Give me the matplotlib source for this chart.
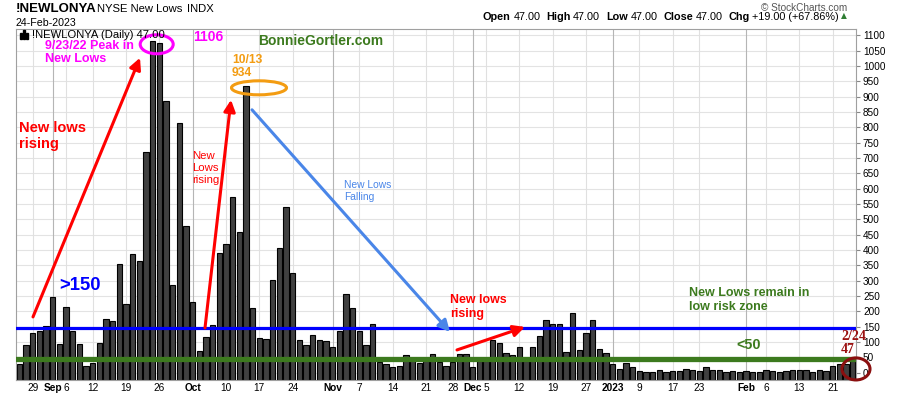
import matplotlib
matplotlib.use('Agg')
import matplotlib.pyplot as plt
import matplotlib.patches as mpatches
import pandas as pd

plt.rcParams['font.family'] = ['Liberation Sans', 'DejaVu Sans']

# trading days shown on the chart
holidays = ['2022-09-05', '2022-11-24', '2022-12-26', '2023-01-02', '2023-01-16', '2023-02-20']
days = [d for d in pd.bdate_range('2022-08-25', '2023-02-24') if d.strftime('%Y-%m-%d') not in holidays]

# daily NYSE new lows
new_lows_aug = [28, 90, 130, 137, 152]
new_lows_sep = [247, 93, 214, 136, 94, 22, 31, 97, 175, 168, 354, 224, 387, 364, 720,
                1083, 1076, 887, 286, 815, 478]
new_lows_oct = [230, 71, 116, 155, 390, 420, 573, 459, 934, 211, 112, 110, 302, 406, 541,
                325, 107, 90, 122, 107, 103]
new_lows_nov = [84, 136, 257, 211, 136, 90, 159, 35, 28, 18, 22, 58, 48, 33, 38, 60, 35,
                22, 36, 60, 60]
new_lows_dec = [18, 38, 38, 107, 97, 63, 58, 84, 38, 84, 119, 171, 159, 159, 67, 194, 73,
                128, 171, 76, 63]
new_lows_jan = [28, 11, 31, 18, 4, 3, 3, 7, 3, 5, 5, 11, 9, 5, 18, 8, 8, 3, 5, 3]
new_lows_feb = [5, 3, 3, 8, 6, 3, 5, 9, 8, 8, 3, 9, 5, 21, 27, 28, 47]
new_lows = new_lows_aug + new_lows_sep + new_lows_oct + new_lows_nov + new_lows_dec + new_lows_jan + new_lows_feb

# x axis labels
tick_dates = ['2022-08-29', '2022-09-01', '2022-09-06', '2022-09-12', '2022-09-19', '2022-09-26',
              '2022-10-03', '2022-10-10', '2022-10-17', '2022-10-24', '2022-11-01', '2022-11-07',
              '2022-11-14', '2022-11-21', '2022-11-28', '2022-12-01', '2022-12-05', '2022-12-12',
              '2022-12-19', '2022-12-27', '2023-01-03', '2023-01-09', '2023-01-17', '2023-01-23',
              '2023-02-01', '2023-02-06', '2023-02-13', '2023-02-21']
tick_text = ['29', 'Sep', '6', '12', '19', '26', 'Oct', '10', '17', '24', 'Nov', '7', '14', '21',
             '28', 'Dec', '5', '12', '19', '27', '2023', '9', '17', '23', 'Feb', '6', '13', '21']
month_ticks = ['Sep', 'Oct', 'Nov', 'Dec', '2023', 'Feb']

quote_labels = ['Open', 'High', 'Low', 'Close', 'Chg']
quote_values = ['47.00', '47.00', '47.00', '47.00', '+19.00 (+67.86%)']

high_level = 145
low_level = 45
y_bottom = -24

W, H = 900, 396
fig = plt.figure(figsize=(W / 100, H / 100), dpi=100)
ax = fig.add_axes([16 / W, 16 / H, 840 / W, 351 / H])


def fx(x):
    return x / W


def fy(y):
    return 1 - y / H


x = list(range(len(days)))
day_str = [d.strftime('%Y-%m-%d') for d in days]
tick_pos = [day_str.index(t) for t in tick_dates]

# grid
for v in range(0, 1101, 50):
    ax.axhline(v, color='#e3e3e3', lw=0.8, zorder=0)
for p, t in zip(tick_pos, tick_text):
    ax.axvline(p, color='#b5b5b5' if t in month_ticks else '#e0e0e0', lw=0.8, zorder=0)

ax.bar(x, [v - y_bottom for v in new_lows], bottom=y_bottom, width=0.82,
       color='#404040', edgecolor='black', linewidth=0.8, zorder=2)

ax.axhline(high_level, color='#0000ff', lw=2.3, zorder=3)
ax.axhline(low_level, color='#3c7a1e', lw=3.8, zorder=3)

ax.set_xlim(-0.5, len(days) - 0.5)
ax.set_ylim(y_bottom, 1121)
ax.yaxis.tick_right()
ax.set_yticks(range(0, 1101, 50))
ax.tick_params(axis='y', labelsize=7.2, length=3, color='#888888', pad=2)
ax.set_xticks(tick_pos)
ax.set_xticklabels(tick_text, fontsize=7.3)
for lab in ax.get_xticklabels():
    if lab.get_text() in month_ticks:
        lab.set_fontweight('bold')
ax.tick_params(axis='x', length=0, pad=2)
for s in ax.spines.values():
    s.set_color('#a0a0a0')
    s.set_linewidth(0.8)

# header
fig.text(fx(16), fy(9.5), '!NEWLONYA', fontsize=9.5, fontweight='bold', va='center')
fig.text(fx(97), fy(9.5), 'NYSE New Lows', fontsize=8.1, va='center')
fig.text(fx(187), fy(9.5), 'INDX', fontsize=8.1, va='center')
fig.text(fx(16), fy(22.7), '24-Feb-2023', fontsize=7.7, va='center')
fig.text(fx(847), fy(8), '\u00a9 StockCharts.com', fontsize=7.2, color='#555555',
         va='center', ha='right')

# quote line, laid out piece by piece
fig.canvas.draw()
renderer = fig.canvas.get_renderer()
cur = 483
for lab, val in zip(quote_labels, quote_values):
    t = fig.text(fx(cur), fy(16.5), lab, fontsize=7.8, fontweight='bold', va='center')
    cur += t.get_window_extent(renderer).width + 2.5
    t = fig.text(fx(cur), fy(16.5), val, fontsize=7.8, va='center')
    cur += t.get_window_extent(renderer).width + 6
fig.text(fx(cur - 4), fy(16), '\u25b2', fontsize=5.5, color='#2e7d32', va='center',
         family=['DejaVu Sans'])

# legend line inside chart
for i, h in enumerate([5, 8, 6]):
    fig.patches.append(mpatches.Rectangle((fx(20 + i * 3), fy(38.5)), 2 / W, h / H,
                                          transform=fig.transFigure, color='black'))
fig.text(fx(32), fy(34.5), '!NEWLONYA (Daily) 47.00', fontsize=8.1, va='center')


def d2x(px):
    return (px - 16) / (840 / len(days)) - 0.5


def d2y(py):
    return (372.7 - py) / 0.3064


def note(px, py, s, **kw):
    ax.text(d2x(px), d2y(py), s, va='center', ha='left', zorder=5, **kw)


note(45, 46, '9/23/22 Peak in', color='#ff00ff', fontsize=9, fontweight='bold')
note(45, 59.5, 'New Lows', color='#ff00ff', fontsize=9, fontweight='bold')
note(193, 37, '1106', color='#ff00ff', fontsize=10, fontweight='bold')
note(258, 41, 'BonnieGortler.com', color='#3c7a1e', fontsize=10, fontweight='bold')
note(232, 60, '10/13', color='#f39c12', fontsize=8.7, fontweight='bold')
note(232, 73, '934', color='#f39c12', fontsize=8.7, fontweight='bold')
note(19, 128, 'New lows', color='#ff0000', fontsize=10.5, fontweight='bold')
note(19, 144.5, 'rising', color='#ff0000', fontsize=10.5, fontweight='bold')
note(192, 156, 'New', color='#ff0000', fontsize=8.2)
note(192, 168, 'Lows', color='#ff0000', fontsize=8.2)
note(192, 180, 'rising', color='#ff0000', fontsize=8.2)
note(344, 185, 'New Lows', color='#4a86e8', fontsize=7.4)
note(344, 197, 'Falling', color='#4a86e8', fontsize=7.4)
note(59, 286, '>150', color='#0000ff', fontsize=13.3, fontweight='bold')
note(450, 300, 'New lows', color='#ff0000', fontsize=8.9, fontweight='bold')
note(450, 314, 'rising', color='#ff0000', fontsize=8.9, fontweight='bold')
note(689, 293.5, 'New Lows remain in', color='#3c7a1e', fontsize=9, fontweight='bold')
note(689, 307.5, 'low risk zone', color='#3c7a1e', fontsize=9, fontweight='bold')
note(736, 345, '<50', color='#3c7a1e', fontsize=10.4, fontweight='bold')
ax.text(d2x(841), d2y(336.7), '2/24', color='#9b1111', fontsize=10, fontweight='bold',
        family=['Liberation Serif'], va='center', ha='left', zorder=5, clip_on=False)
ax.text(d2x(841), d2y(349.3), '47', color='#9b1111', fontsize=10, fontweight='bold',
        family=['Liberation Serif'], va='center', ha='left', zorder=5, clip_on=False)


def arrow(p0, p1, color):
    ax.annotate('', xy=(d2x(p1[0]), d2y(p1[1])), xytext=(d2x(p0[0]), d2y(p0[1])), zorder=6,
                arrowprops=dict(arrowstyle='-|>', color=color, lw=2.2, mutation_scale=17,
                                shrinkA=0, shrinkB=0))


arrow((33, 317), (140, 58), '#ff0000')
arrow((205, 328), (231, 100), '#ff0000')
arrow((252, 110), (450, 332), '#4a86e8')
arrow((457, 350), (525, 327), '#ff0000')

bar_w = 840 / len(days)
ax.add_patch(mpatches.Ellipse((d2x(156.7), d2y(44.5)), 33 / bar_w, 19 / 0.3064, fill=False,
                              edgecolor='#ff00ff', lw=2.2, zorder=6))
ax.add_patch(mpatches.Ellipse((d2x(259), d2y(88)), 55 / bar_w, 14 / 0.3064, fill=False,
                              edgecolor='#f39c12', lw=2.2, zorder=6))
ax.add_patch(mpatches.Ellipse((d2x(856), d2y(369)), 28 / bar_w, 22 / 0.3064, fill=False,
                              edgecolor='#8b0f0f', lw=2.2, zorder=6, clip_on=False))

fig.savefig('out.png', dpi=100)
